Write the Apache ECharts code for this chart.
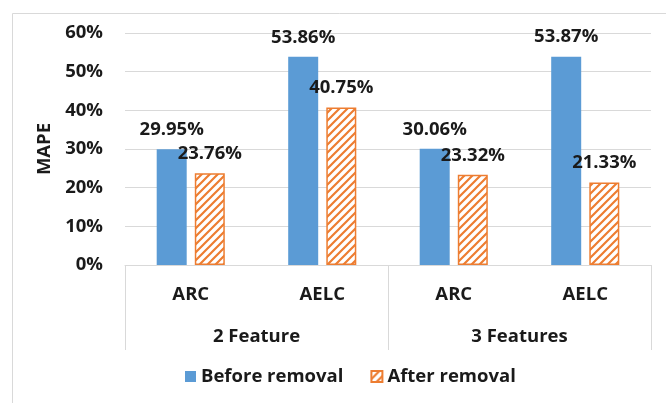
<!DOCTYPE html>
<html>
<head>
<meta charset="utf-8">
<script src="https://cdn.jsdelivr.net/npm/echarts@6/dist/echarts.min.js"></script>
<style>html,body{margin:0;padding:0;background:#fff}#c{width:666px;height:403px}</style>
</head>
<body>
<div id="c"></div>
<script>
var categories = ['ARC', 'AELC', 'ARC', 'AELC'];
var groups = ['2 Feature', '3 Features'];
var beforeRemoval = [29.95, 53.86, 30.06, 53.87];
var afterRemoval = [23.76, 40.75, 23.32, 21.33];
var yTicks = {min: 0, max: 60, interval: 10};

var FONT = '"Open Sans"';
var FS = 18.5;
var TXT = '#1a1a1a';
var ORANGE = '#ED7D31';
var BLUE = '#5B9BD5';

function hatch() {
  var s = 8;
  var c = document.createElement('canvas');
  c.width = s; c.height = s;
  var g = c.getContext('2d');
  g.fillStyle = '#fff';
  g.fillRect(0, 0, s, s);
  g.strokeStyle = ORANGE;
  g.lineWidth = 2.2;
  g.beginPath();
  g.moveTo(-2, s + 2); g.lineTo(s + 2, -2);
  g.moveTo(-2, 2); g.lineTo(2, -2);
  g.moveTo(s - 2, s + 2); g.lineTo(s + 2, s - 2);
  g.stroke();
  return c;
}
var pattern = {image: hatch(), repeat: 'repeat'};

var chart = echarts.init(document.getElementById('c'), null, {renderer: 'canvas'});
var labelStyle = {
  show: true, position: 'top', distance: 10,
  fontFamily: FONT, fontWeight: 'bold', fontSize: FS, color: TXT,
  formatter: function (p) { return p.value.toFixed(2) + '%'; }
};
chart.setOption({
  animation: false,
  backgroundColor: '#fff',
  graphic: [{
    type: 'rect', left: 10, top: 11, silent: true,
    shape: {x: 0, y: 0, width: 700, height: 500},
    style: {fill: 'none', stroke: '#d9d9d9', lineWidth: 1}
  }],
  grid: {left: 125, right: 15, top: 33, bottom: 138},
  legend: {
    bottom: 12, left: 180, itemWidth: 11, itemHeight: 11, itemGap: 27,
    icon: 'rect',
    textStyle: {fontFamily: FONT, fontWeight: 'bold', fontSize: FS, color: TXT},
    data: ['Before removal', 'After removal']
  },
  xAxis: [{
    type: 'category', data: categories, position: 'bottom', offset: 0,
    axisLine: {show: true, lineStyle: {color: '#d9d9d9', width: 1}},
    axisTick: {show: false},
    axisLabel: {margin: 20, fontFamily: FONT, fontWeight: 'bold', fontSize: FS, color: TXT}
  }, {
    type: 'category', data: groups, position: 'bottom', offset: 0,
    axisLine: {show: false},
    axisTick: {show: true, length: 85, alignWithLabel: false, lineStyle: {color: '#d9d9d9', width: 1}},
    axisLabel: {margin: 62, fontFamily: FONT, fontWeight: 'bold', fontSize: FS, color: TXT}
  }],
  yAxis: {
    type: 'value', min: yTicks.min, max: yTicks.max, interval: yTicks.interval,
    name: 'MAPE', nameLocation: 'middle', nameGap: 63,
    nameTextStyle: {fontFamily: FONT, fontWeight: 'bold', fontSize: FS, color: TXT},
    axisLine: {show: false}, axisTick: {show: false},
    splitLine: {lineStyle: {color: '#d9d9d9', width: 1}},
    axisLabel: {margin: 22, formatter: '{value}%', fontFamily: FONT, fontWeight: 'bold', fontSize: FS, color: TXT}
  },
  series: [{
    name: 'Before removal', type: 'bar', xAxisIndex: 0, data: beforeRemoval,
    barWidth: 30, barGap: '27%',
    itemStyle: {color: BLUE},
    label: labelStyle
  }, {
    name: 'After removal', type: 'bar', xAxisIndex: 0, data: afterRemoval,
    barWidth: 30, barGap: '27%',
    itemStyle: {color: pattern, borderColor: ORANGE, borderWidth: 1.5},
    label: labelStyle
  }]
});
</script>
</body>
</html>
